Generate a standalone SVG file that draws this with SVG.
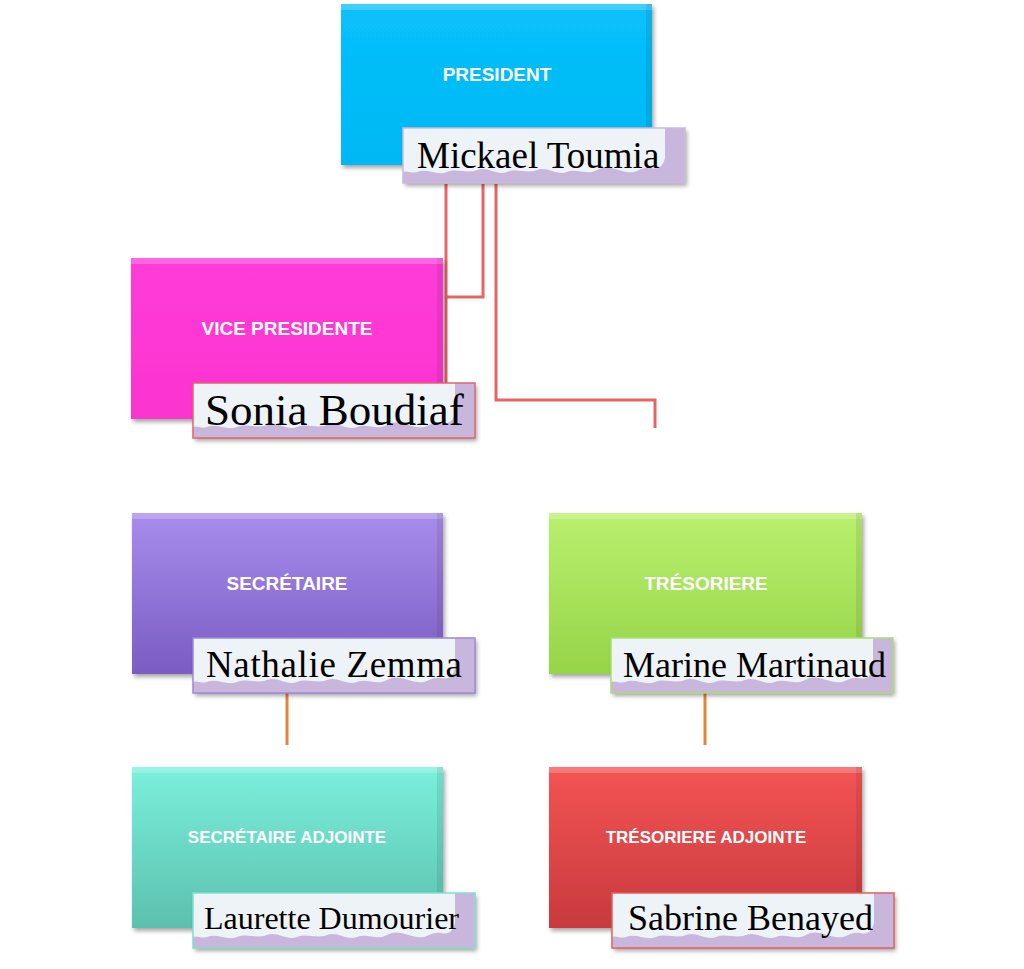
<svg xmlns="http://www.w3.org/2000/svg" xmlns:xlink="http://www.w3.org/1999/xlink" width="1024" height="969" viewBox="0 0 1024 969">
<style>
.title{font-family:"Liberation Sans",Arial,sans-serif;font-weight:bold;font-size:19px;fill:#ffffff;text-anchor:middle}
.title.small{font-size:17px}
.name{font-family:"Liberation Serif","Times New Roman",serif;fill:#000000}
.plateBorder{fill:none;stroke-width:1.5}
.conn{fill:none;stroke:#e86464;stroke-width:3}
.conn2{fill:none;stroke:#e8823c;stroke-width:3}
.hl{fill:#ffffff;opacity:0.22}
.dk{fill:#000000;opacity:0.08}
</style>
<defs>
<filter id="sh" x="-10%" y="-10%" width="130%" height="140%">
<feDropShadow dx="2" dy="3" stdDeviation="2" flood-color="#000" flood-opacity="0.35"/>
</filter>
<linearGradient id="gBlue" x1="0" y1="0" x2="0" y2="1"><stop offset="0" stop-color="#08c0fb"/><stop offset="1" stop-color="#00b8f4"/></linearGradient>
<linearGradient id="gPink" x1="0" y1="0" x2="0" y2="1"><stop offset="0" stop-color="#ff3cd8"/><stop offset="1" stop-color="#fb34d0"/></linearGradient>
<linearGradient id="gPurple" x1="0" y1="0" x2="0" y2="1"><stop offset="0" stop-color="#a88cec"/><stop offset="1" stop-color="#7a5cc2"/></linearGradient>
<linearGradient id="gGreen" x1="0" y1="0" x2="0" y2="1"><stop offset="0" stop-color="#b9f06e"/><stop offset="1" stop-color="#96d448"/></linearGradient>
<linearGradient id="gTeal" x1="0" y1="0" x2="0" y2="1"><stop offset="0" stop-color="#7af0dc"/><stop offset="1" stop-color="#5cc0ae"/></linearGradient>
<linearGradient id="gRed" x1="0" y1="0" x2="0" y2="1"><stop offset="0" stop-color="#f45454"/><stop offset="1" stop-color="#c83a3e"/></linearGradient>
<g id="plate">
<rect x="0" y="0" width="282" height="55" fill="#c9b6dc"/>
<path d="M0,0 H262 V30 C260,38 256,42 248,40 C238,38 234,46 224,44 C212,42 204,36 194,42 C184,48 174,40 164,44 C154,48 144,38 134,42 C124,46 114,40 104,44 C94,48 84,38 74,42 C64,46 54,40 44,44 C34,48 24,40 14,44 C8,46 4,42 0,44 Z" fill="#eef3f7"/>
</g>
</defs>

<g id="connectors">
<path class="conn" d="M446,184 V383"/>
<path class="conn" d="M483,184 V297 H446"/>
<path class="conn" d="M496,184 V400 H655 V428"/>
<path class="conn2" d="M287,693 V745"/>
<path class="conn2" d="M705,693 V745"/>
</g>

<g id="president">
<rect x="341" y="4" width="311" height="161" fill="url(#gBlue)" filter="url(#sh)"/>
<rect class="hl" x="341" y="4" width="311" height="6"/>
<rect class="dk" x="646" y="4" width="6" height="161"/>
<text class="title" x="497" y="81">PRESIDENT</text>
<use xlink:href="#plate" x="403" y="128" filter="url(#sh)"/>
<rect class="plateBorder" x="403" y="128" width="282" height="55" stroke="#c8bcd8"/>
<text class="name" x="417" y="168" font-size="37">Mickael Toumia</text>
</g>

<g id="vice-presidente">
<rect x="131" y="258" width="312" height="161" fill="url(#gPink)" filter="url(#sh)"/>
<rect class="hl" x="131" y="258" width="312" height="6"/>
<rect class="dk" x="437" y="258" width="6" height="161"/>
<text class="title" x="287" y="335">VICE PRESIDENTE</text>
<use xlink:href="#plate" x="193" y="383" filter="url(#sh)"/>
<rect class="plateBorder" x="193" y="383" width="282" height="55" stroke="#e26470"/>
<text class="name" x="205" y="425" font-size="45">Sonia Boudiaf</text>
</g>

<g id="secretaire">
<rect x="132" y="513" width="311" height="161" fill="url(#gPurple)" filter="url(#sh)"/>
<rect class="hl" x="132" y="513" width="311" height="6"/>
<rect class="dk" x="437" y="513" width="6" height="161"/>
<text class="title" x="287" y="590">SECRÉTAIRE</text>
<use xlink:href="#plate" x="193" y="638" filter="url(#sh)"/>
<rect class="plateBorder" x="193" y="638" width="282" height="55" stroke="#9c88d8"/>
<text class="name" x="206" y="677" font-size="37" textLength="256">Nathalie Zemma</text>
</g>

<g id="tresoriere">
<rect x="549" y="513" width="313" height="161" fill="url(#gGreen)" filter="url(#sh)"/>
<rect class="hl" x="549" y="513" width="313" height="6"/>
<rect class="dk" x="856" y="513" width="6" height="161"/>
<text class="title" x="706" y="590">TRÉSORIERE</text>
<use xlink:href="#plate" x="611" y="638" filter="url(#sh)"/>
<rect class="plateBorder" x="611" y="638" width="282" height="55" stroke="#a8e070"/>
<text class="name" x="623" y="677" font-size="36">Marine Martinaud</text>
</g>

<g id="secretaire-adjointe">
<rect x="132" y="767" width="311" height="161" fill="url(#gTeal)" filter="url(#sh)"/>
<rect class="hl" x="132" y="767" width="311" height="6"/>
<rect class="dk" x="437" y="767" width="6" height="161"/>
<text class="title small" x="287" y="843">SECRÉTAIRE ADJOINTE</text>
<use xlink:href="#plate" x="193" y="893" filter="url(#sh)"/>
<rect class="plateBorder" x="193" y="893" width="282" height="55" stroke="#80e0d0"/>
<text class="name" x="204" y="929" font-size="32">Laurette Dumourier</text>
</g>

<g id="tresoriere-adjointe">
<rect x="549" y="767" width="313" height="161" fill="url(#gRed)" filter="url(#sh)"/>
<rect class="hl" x="549" y="767" width="313" height="6"/>
<rect class="dk" x="856" y="767" width="6" height="161"/>
<text class="title small" x="706" y="843">TRÉSORIERE ADJOINTE</text>
<use xlink:href="#plate" x="612" y="893" filter="url(#sh)"/>
<rect class="plateBorder" x="612" y="893" width="282" height="55" stroke="#e26060"/>
<text class="name" x="628" y="930" font-size="36">Sabrine Benayed</text>
</g>
</svg>
